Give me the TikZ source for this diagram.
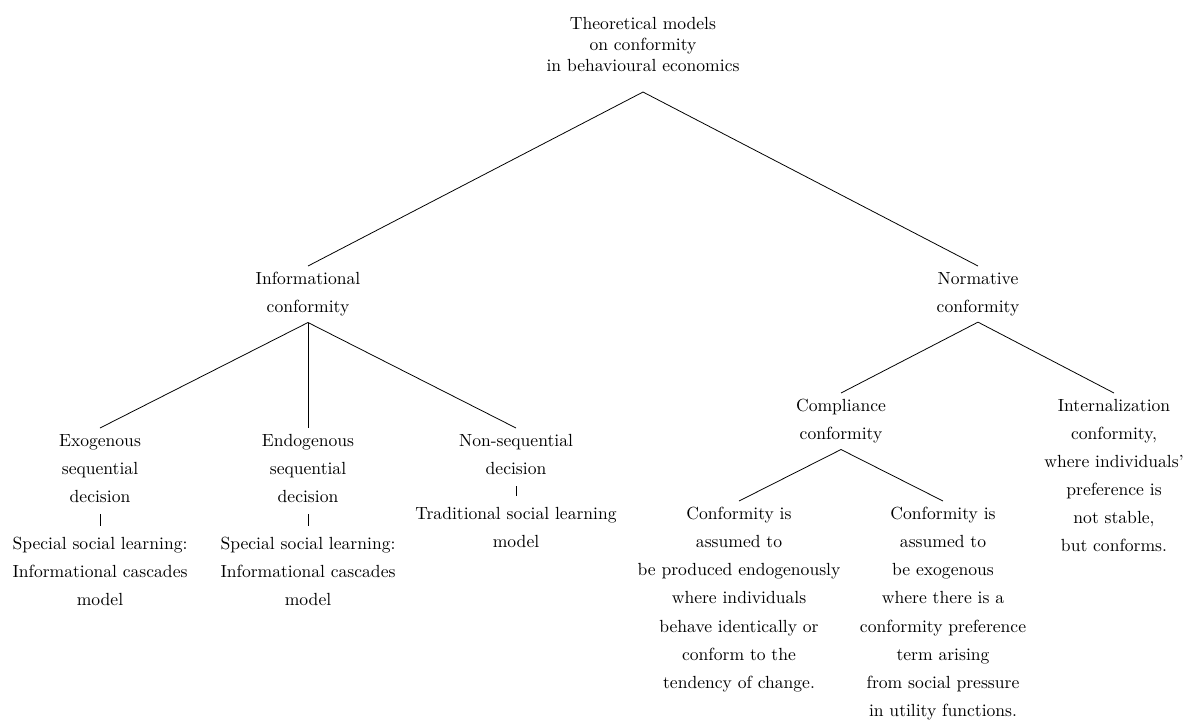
\documentclass[tikz,border=0pt]{standalone}
\usepackage{tikz}
\usetikzlibrary{positioning}
\tikzset{
  leaf/.style={align=center,anchor=north,font=\fontsize{10}{16}\selectfont},
  rootleaf/.style={leaf,font=\fontsize{10}{12}\selectfont},
  branch/.style={draw=black,line width=0.45pt},
  stem/.style={branch,shorten <=3pt,shorten >=3pt}
}

\begin{document}
\begin{tikzpicture}[x=0.02cm,y=-0.02cm]
  \useasboundingbox (0,0) rectangle (1185,721);
  \node[rootleaf] (root) at (643,11) {Theoretical models\\on conformity\\in behavioural economics};
  \coordinate (rootfork) at ([yshift=-8pt]root.south);
  \node[leaf] (info) at (308,266) {Informational\\conformity};
  \node[leaf] (norm) at (978,266) {Normative\\conformity};
  \node[leaf] (exo) at (100,428) {Exogenous\\sequential\\decision};
  \node[leaf] (endo) at (308,428) {Endogenous\\sequential\\decision};
  \node[leaf] (nonseq) at (516,428) {Non-sequential\\decision};
  \node[leaf] (exomodel) at (100,531) {Special social learning:\\Informational cascades\\model};
  \node[leaf] (endomodel) at (308,531) {Special social learning:\\Informational cascades\\model};
  \node[leaf] (tradmodel) at (516,501) {Traditional social learning\\model};
  \node[leaf] (compl) at (841,393) {Compliance\\conformity};
  \node[leaf] (intern) at (1114,393) {Internalization\\conformity,\\where individuals'\\preference is\\not stable,\\but conforms.};
  \node[leaf] (endoconf) at (739,501) {Conformity is\\assumed to\\be produced endogenously\\where individuals\\behave identically or\\conform to the\\tendency of change.};
  \node[leaf] (exoconf) at (943,501) {Conformity is\\assumed to\\be exogenous\\where there is a\\conformity preference\\term arising\\from social pressure\\in utility functions.};
  \draw[branch] (rootfork) -- (info.north);
  \draw[branch] (rootfork) -- (norm.north);
  \draw[branch] (info.south) -- (exo.north);
  \draw[branch] (info.south) -- (endo.north);
  \draw[branch] (info.south) -- (nonseq.north);
  \draw[stem] (exo.south) -- (exomodel.north);
  \draw[stem] (endo.south) -- (endomodel.north);
  \draw[stem] (nonseq.south) -- (tradmodel.north);
  \draw[branch] (norm.south) -- (compl.north);
  \draw[branch] (norm.south) -- (intern.north);
  \draw[branch] (compl.south) -- (endoconf.north);
  \draw[branch] (compl.south) -- (exoconf.north);
\end{tikzpicture}
\end{document}
